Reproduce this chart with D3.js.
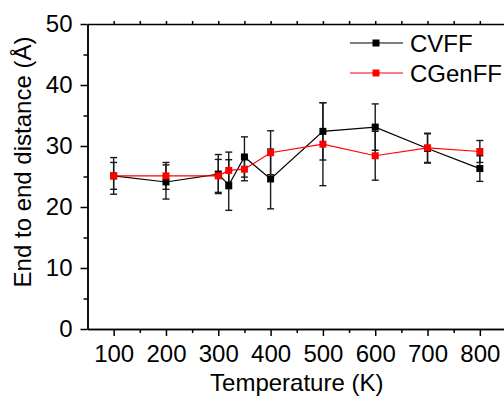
<!doctype html>
<html>
<head>
<meta charset="utf-8">
<title>End to end distance</title>
<script src="https://cdnjs.cloudflare.com/ajax/libs/d3/7.8.5/d3.min.js"></script>
<style>
	body { margin: 0; background: #fff; }
	svg text { font-family: "Liberation Sans", Arial, sans-serif; fill: #000; }
	.axis path, .axis line { stroke: #000; stroke-width: 1.5; }
</style>
</head>
<body>
<div id="viz"></div>
<script>

// DATA
var temps = [100, 200, 300, 320, 350, 400, 500, 600, 700, 800];
var cvff = [25.1, 24.1, 25.4, 23.6, 28.2, 24.6, 32.4, 33.1, 29.6, 26.3];
var cvffErr = [3.0, 2.8, 3.2, 4.15, 3.3, 4.9, 4.7, 3.8, 2.4, 2.1];
var cgenff = [25.1, 25.1, 25.1, 26.0, 26.2, 28.9, 30.3, 28.4, 29.7, 29.1];
var cgenffErr = [2.2, 2.2, 2.7, 3.0, 1.9, 3.6, 6.8, 4.0, 2.4, 1.8];
var xTicks = [100, 200, 300, 400, 500, 600, 700, 800];
var yTicks = [0, 10, 20, 30, 40, 50];

var w = 504, h = 396;

var svg = d3.select("#viz").append("svg")
	.attr("width", w)
	.attr("height", h);

// SCALES
var x = d3.scaleLinear().domain([50, 850]).range([87.5, 506]);
var y = d3.scaleLinear().domain([0, 50]).range([329, 24]);

// AXES
svg.append("g").attr("class", "axis")
	.attr("transform", "translate(0," + y(0) + ")")
	.call(d3.axisBottom(x).tickValues(xTicks).tickSize(7).tickSizeOuter(0).tickPadding(9))
	.selectAll("text").style("font-size", "24px");
svg.append("g").attr("class", "axis")
	.attr("transform", "translate(0," + y(0) + ")")
	.call(d3.axisBottom(x).tickValues(d3.range(150, 850, 100)).tickSize(4).tickSizeOuter(0).tickFormat(""));

svg.append("g").attr("class", "axis")
	.attr("transform", "translate(" + x(50) + ",0)")
	.call(d3.axisLeft(y).tickValues(yTicks).tickSize(7).tickSizeOuter(0).tickPadding(8))
	.selectAll("text").style("font-size", "24px");
svg.append("g").attr("class", "axis")
	.attr("transform", "translate(" + x(50) + ",0)")
	.call(d3.axisLeft(y).tickValues(d3.range(5, 50, 10)).tickSize(4).tickSizeOuter(0).tickFormat(""));

// top frame with small ticks pointing up
svg.append("g").attr("class", "axis")
	.attr("transform", "translate(0," + y(50) + ")")
	.call(d3.axisTop(x).tickValues(d3.range(100, 850, 50)).tickSize(3).tickSizeOuter(0).tickFormat(""));

// LABELS
svg.append("text")
	.attr("x", x(450))
	.attr("y", 391)
	.attr("text-anchor", "middle")
	.style("font-size", "24px")
	.text("Temperature (K)");

svg.append("text")
	.attr("transform", "translate(31,162) rotate(-90)")
	.attr("text-anchor", "middle")
	.style("font-size", "24px")
	.text("End to end distance (Å)");

// SERIES
var series = [
	{ name: "CVFF", values: cvff, err: cvffErr, color: "#000000" },
	{ name: "CGenFF", values: cgenff, err: cgenffErr, color: "#ff0000" }
];

var line = d3.line()
	.x(function(d, i) { return x(temps[i]); })
	.y(function(d) { return y(d); });

// error bars first
series.forEach(function(s) {
	var g = svg.append("g").attr("stroke", "#1a1a1a").attr("stroke-width", 1.4);
	s.values.forEach(function(v, i) {
		var cx = x(temps[i]);
		g.append("line").attr("x1", cx).attr("x2", cx)
			.attr("y1", y(v - s.err[i])).attr("y2", y(v + s.err[i]));
		g.append("line").attr("x1", cx - 3.5).attr("x2", cx + 3.5)
			.attr("y1", y(v - s.err[i])).attr("y2", y(v - s.err[i]));
		g.append("line").attr("x1", cx - 3.5).attr("x2", cx + 3.5)
			.attr("y1", y(v + s.err[i])).attr("y2", y(v + s.err[i]));
	});
});

series.forEach(function(s) {
	svg.append("path")
		.datum(s.values)
		.attr("d", line)
		.attr("fill", "none")
		.attr("stroke", s.color)
		.attr("stroke-width", 1.2);
	svg.append("g").selectAll("rect")
		.data(s.values)
		.enter()
		.append("rect")
		.attr("x", function(d, i) { return x(temps[i]) - 3.5; })
		.attr("y", function(d) { return y(d) - 3.5; })
		.attr("width", 7)
		.attr("height", 7)
		.attr("fill", s.color);
});

// LEGEND
var legend = svg.append("g");
series.forEach(function(s, i) {
	var ly = 43 + i * 30;
	legend.append("line").attr("x1", 350).attr("x2", 403)
		.attr("y1", ly).attr("y2", ly)
		.attr("stroke", s.color).attr("stroke-width", 1.2);
	legend.append("rect").attr("x", 372.5).attr("y", ly - 3.5)
		.attr("width", 7).attr("height", 7).attr("fill", s.color);
	legend.append("text").attr("x", 410).attr("y", ly + 8.5)
		.style("font-size", "24px")
		.text(s.name);
});

</script>
</body>
</html>
